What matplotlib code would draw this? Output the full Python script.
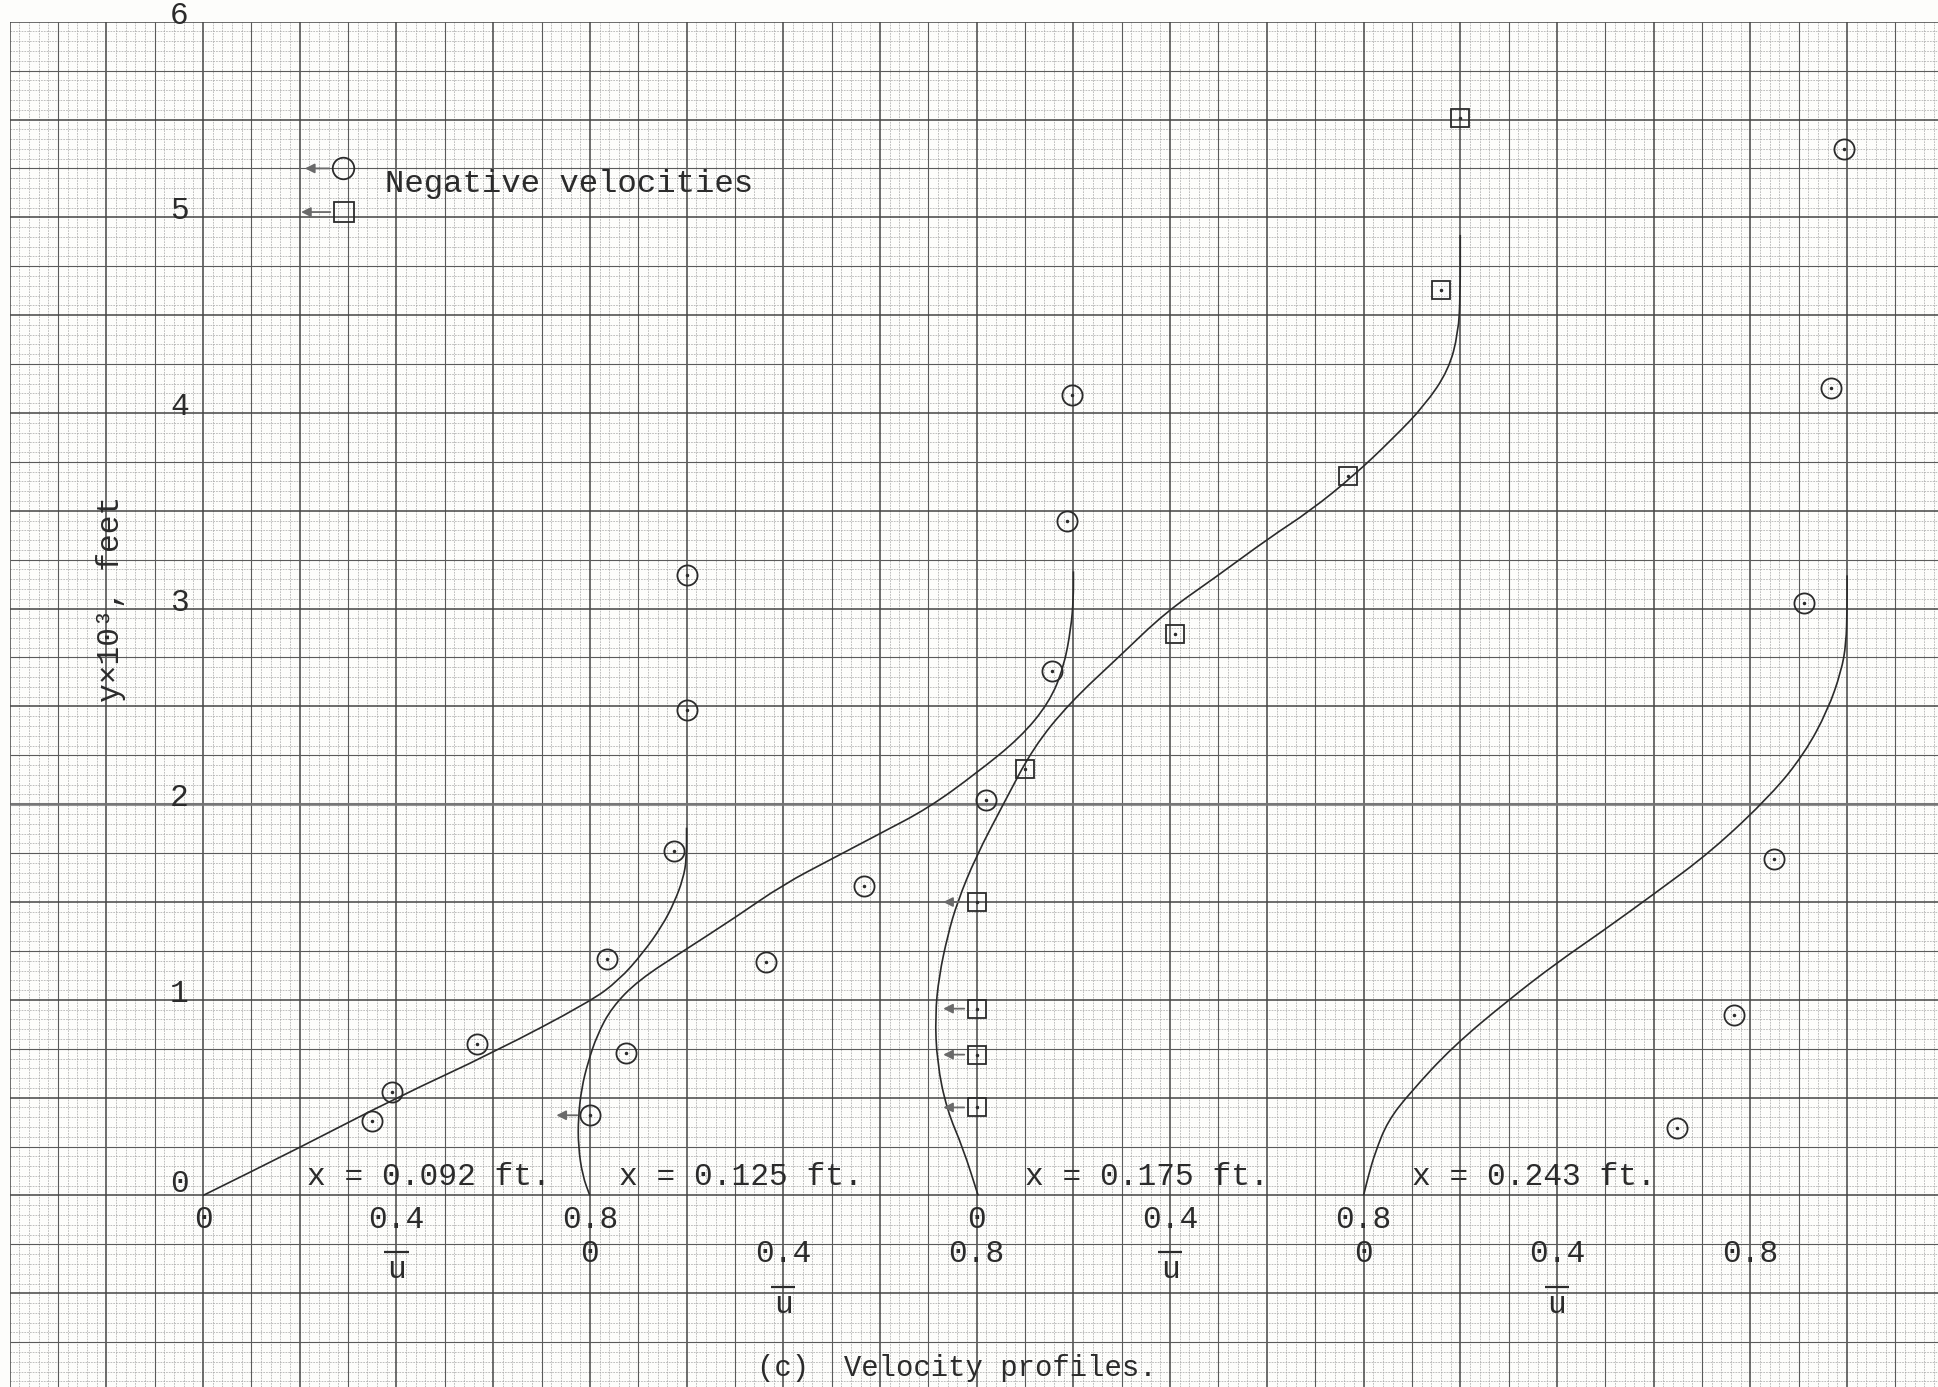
import numpy as np
import matplotlib.pyplot as plt
from matplotlib.path import Path
from matplotlib.patches import PathPatch

# Velocity profiles at four stations; each profile is shifted 0.8 along the u axis
stations = ['x = 0.092 ft.', 'x = 0.125 ft.', 'x = 0.175 ft.', 'x = 0.243 ft.']
offsets = [0.0, 0.8, 1.6, 2.4]
symbols = ['o', 'o', 's', 'o']
label_x = [0.215, 0.86, 1.70, 2.50]

# measured points (u relative to each profile origin, y x 10^3 ft)
u1 = [0.35, 0.39, 0.567, 0.836, 0.974, 1.0, 1.0]
y1 = [0.38, 0.53, 0.775, 1.21, 1.76, 2.48, 3.17]
neg1 = [0, 0, 0, 0, 0, 0, 0]

u2 = [0.0, 0.074, 0.364, 0.567, 0.819, 0.955, 0.986, 0.998]
y2 = [0.41, 0.73, 1.195, 1.58, 2.02, 2.68, 3.45, 4.09]
neg2 = [1, 0, 0, 0, 0, 0, 0, 0]

u3 = [0.0, 0.0, 0.0, 0.0, 0.10, 0.41, 0.768, 0.96, 1.0]
y3 = [0.45, 0.72, 0.955, 1.50, 2.18, 2.87, 3.68, 4.63, 5.51]
neg3 = [1, 1, 1, 1, 0, 0, 0, 0, 0]

u4 = [0.648, 0.767, 0.848, 0.911, 0.967, 0.993]
y4 = [0.345, 0.92, 1.72, 3.03, 4.127, 5.35]
neg4 = [0, 0, 0, 0, 0, 0]

# faired curves (relative u, y)
cu1 = [0, 0.2, 0.4, 0.6, 0.8, 0.86, 0.91, 0.95, 0.975, 0.993, 1.0, 1.0]
cy1 = [0, 0.245, 0.5, 0.73, 0.99, 1.1, 1.24, 1.38, 1.5, 1.62, 1.72, 1.88]

cu2 = [0.0, -0.015, -0.024, -0.024, -0.017, -0.004, 0.015, 0.045, 0.1, 0.2, 0.3,
       0.4, 0.5, 0.6, 0.7, 0.8, 0.89, 0.95, 0.98, 0.995, 1.0, 1.0]
cy2 = [0.0, 0.1, 0.25, 0.4, 0.55, 0.68, 0.82, 0.96, 1.1, 1.26, 1.42,
       1.59, 1.72, 1.85, 1.98, 2.16, 2.34, 2.52, 2.7, 2.9, 3.05, 3.19]

cu3 = [0.003, -0.028, -0.062, -0.082, -0.086, -0.078, -0.06, -0.04, -0.002,
       0.055, 0.117, 0.193, 0.297, 0.39, 0.494, 0.604, 0.69, 0.78, 0.861,
       0.927, 0.976, 0.996, 1.0, 1.0]
cy3 = [0.0, 0.24, 0.44, 0.68, 0.92, 1.12, 1.33, 1.5, 1.73,
       2.0, 2.29, 2.52, 2.76, 2.98, 3.16, 3.36, 3.5, 3.68, 3.87,
       4.04, 4.22, 4.41, 4.6, 4.91]

cu4 = [0.0, 0.01, 0.024, 0.05, 0.096, 0.184, 0.3, 0.4, 0.488, 0.6, 0.72,
       0.844, 0.912, 0.96, 0.988, 0.998, 1.0, 1.0]
cy4 = [0.0, 0.1, 0.22, 0.38, 0.525, 0.76, 1.0, 1.19, 1.34, 1.54, 1.76,
       2.05, 2.26, 2.48, 2.68, 2.82, 3.0, 3.17]

point_u = [u1, u2, u3, u4]
point_y = [y1, y2, y3, y4]
point_neg = [neg1, neg2, neg3, neg4]
curve_u = [cu1, cu2, cu3, cu4]
curve_y = [cy1, cy2, cy3, cy4]

tick_vals = [0, 0.4, 0.8]
y_ticks = [0, 1, 2, 3, 4, 5, 6]

ink = '#2b2b2b'
pencil = '#6a6a6a'
mono = 'Liberation Mono'
fs = 22.5


def faired_path(xs, ys):
    # quadratic segments through the midpoints, traced points as control points
    pts = np.column_stack([xs, ys])
    verts = [pts[0], (pts[0] + pts[1]) / 2]
    codes = [Path.MOVETO, Path.LINETO]
    for i in range(1, len(pts) - 1):
        verts += [pts[i], (pts[i] + pts[i + 1]) / 2]
        codes += [Path.CURVE3, Path.CURVE3]
    verts.append(pts[-1])
    codes.append(Path.LINETO)
    return Path(verts, codes)


fig = plt.figure(figsize=(19.38, 13.87), dpi=100)
fig.patch.set_facecolor('#fdfdfb')
ax = fig.add_axes([9.6 / 1938, 0, 1 - 9.6 / 1938, 1 - 21.7 / 1387])
ax.set_xlim(-0.4, 3.588)
ax.set_ylim(-0.979, 6)
ax.axis('off')

# graph paper: fine lines every 0.02 / 0.05, heavier every 5 and 10 divisions
xr = (-0.4, 3.588)
yr = (-0.979, 6)
for k in range(-20, 181):
    xv = k * 0.02
    if k % 10 == 0:
        ax.vlines(xv, *yr, color='#444444', lw=1.1, zorder=1)
    elif k % 5 == 0:
        ax.vlines(xv, *yr, color='#5a5a5a', lw=0.8, zorder=1)
    else:
        ax.vlines(xv, *yr, color='#a6a6a6', lw=0.5, linestyles=(0, (2.5, 1.5)), zorder=0)
for k in range(-19, 121):
    yv = k * 0.05
    if k % 10 == 0:
        ax.hlines(yv, *xr, color='#444444', lw=1.1, zorder=1)
    elif k % 5 == 0:
        ax.hlines(yv, *xr, color='#5a5a5a', lw=0.8, zorder=1)
    else:
        ax.hlines(yv, *xr, color='#a6a6a6', lw=0.5, linestyles=(0, (2.5, 1.5)), zorder=0)
ax.hlines(2.0, *xr, color='#7a7a7a', lw=2.2, alpha=0.8, zorder=1)

# faired profile curves
for off, cu, cy in zip(offsets, curve_u, curve_y):
    path = faired_path(np.array(cu) + off, np.array(cy))
    ax.add_patch(PathPatch(path, fill=False, edgecolor=ink, lw=1.2, zorder=3))

# data points with centre dots, arrows for negative velocities
for off, sym, pu, py, pn in zip(offsets, symbols, point_u, point_y, point_neg):
    xs = np.array(pu) + off
    ms = 14.5 if sym == 'o' else 12.5
    ax.plot(xs, py, sym, ms=ms, mfc='none', mec=ink, mew=1.3, zorder=4)
    ax.plot(xs, py, '.', ms=3, color=ink, zorder=4)
    for xv, yv, n in zip(xs, py, pn):
        if n:
            ax.annotate('', xy=(xv - 0.075, yv), xytext=(xv - 0.02, yv),
                        arrowprops=dict(arrowstyle='-|>', color=pencil, lw=1.3,
                                        mutation_scale=14), zorder=4)

# station labels
for lx, name in zip(label_x, stations):
    ax.text(lx, 0.095, name, fontsize=fs, family=mono, color=ink,
            ha='left', va='center')

# u scales under each profile, alternating rows
rows = [(-0.125, -0.29, -0.38), (-0.30, -0.47, -0.56)]
for i, off in enumerate(offsets):
    ty, by, uy = rows[i % 2]
    for tv in tick_vals:
        ax.text(off + tv, ty, f'{tv:g}', fontsize=fs, family=mono, color=ink,
                ha='center', va='center')
    ax.plot([off + 0.375, off + 0.425], [by, by], color=ink, lw=1.6,
            solid_capstyle='butt')
    ax.text(off + 0.4, uy, 'u', fontsize=fs, family=mono, color=ink,
            ha='center', va='center')

# y scale
for yt in y_ticks:
    ax.text(-0.049, yt + (0.06 if yt == 0 else 0.03), str(yt), fontsize=fs,
            family=mono, color=ink, ha='center', va='center', clip_on=False)
ax.text(-0.19, 3.05, 'y×10³, feet', fontsize=fs, family=mono, color=ink,
        rotation=90, ha='center', va='center')

# key
ax.plot([0.29], [5.25], 'o', ms=15.5, mfc='none', mec=ink, mew=1.3)
ax.plot([0.291], [5.027], 's', ms=14, mfc='none', mec=ink, mew=1.3)
ax.annotate('', xy=(0.205, 5.25), xytext=(0.266, 5.25),
            arrowprops=dict(arrowstyle='-|>', color=pencil, lw=1.3, mutation_scale=14))
ax.annotate('', xy=(0.197, 5.027), xytext=(0.269, 5.027),
            arrowprops=dict(arrowstyle='-|>', color=pencil, lw=1.3, mutation_scale=14))
ax.text(0.377, 5.168, 'Negative velocities', fontsize=23.3, family=mono, color=ink,
        ha='left', va='center')

ax.text(1.145, -0.88, '(c)  Velocity profiles.', fontsize=20.8, family=mono,
        color=ink, ha='left', va='center')

fig.savefig('out.png', dpi=100, facecolor=fig.get_facecolor())
